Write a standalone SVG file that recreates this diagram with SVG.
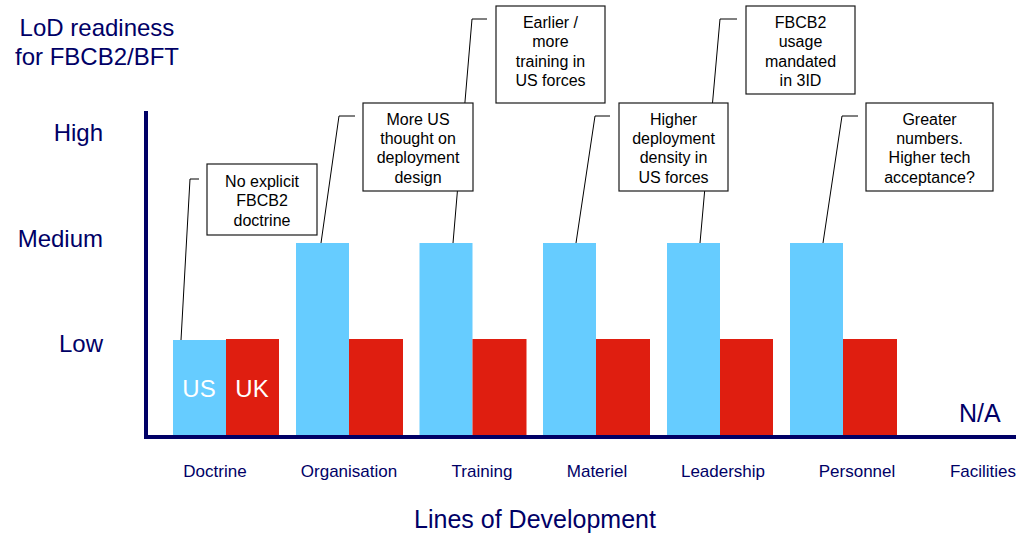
<svg xmlns="http://www.w3.org/2000/svg" width="1016" height="535" viewBox="0 0 1016 535">
<style>
  .navy{fill:#000066;font-family:"Liberation Sans",Arial,sans-serif}
  .big{font-size:24px}
  .cat{font-size:17px;text-anchor:middle}
  .us{fill:#66CCFF}
  .uk{fill:#DF1E10}
  .bartxt{fill:#FFFFFF;font-family:"Liberation Sans",Arial,sans-serif;font-size:24px;text-anchor:middle}
  .box{fill:#FFFFFF;stroke:#1a1a1a;stroke-width:1.2}
  .note{fill:#000000;font-family:"Liberation Sans",Arial,sans-serif;font-size:16px;text-anchor:middle}
  .lead{fill:none;stroke:#000000;stroke-width:1}
</style>
<rect width="1016" height="535" fill="#FFFFFF"/>

<g id="title">
  <text class="navy big" x="97" y="36" text-anchor="middle">LoD readiness</text>
  <text class="navy big" x="97" y="65" text-anchor="middle">for FBCB2/BFT</text>
</g>
<g id="y-labels">
  <text class="navy big" x="103" y="141" text-anchor="end">High</text>
  <text class="navy big" x="103" y="247" text-anchor="end">Medium</text>
  <text class="navy big" x="103" y="352" text-anchor="end">Low</text>
</g>

<g id="bars">
  <g id="bar-doctrine">
    <rect class="us" x="173" y="340" width="53" height="97"/>
    <rect class="uk" x="226" y="339" width="53" height="98"/>
    <text class="bartxt" x="199" y="397">US</text>
    <text class="bartxt" x="252" y="397">UK</text>
  </g>
  <g id="bar-organisation">
    <rect class="us" x="296" y="243" width="53" height="194"/>
    <rect class="uk" x="349" y="339" width="54" height="98"/>
  </g>
  <g id="bar-training">
    <rect class="us" x="419.5" y="243" width="53" height="194"/>
    <rect class="uk" x="472.5" y="339" width="54" height="98"/>
  </g>
  <g id="bar-materiel">
    <rect class="us" x="543" y="243" width="53" height="194"/>
    <rect class="uk" x="596" y="339" width="54" height="98"/>
  </g>
  <g id="bar-leadership">
    <rect class="us" x="667" y="243" width="53" height="194"/>
    <rect class="uk" x="720" y="339" width="53" height="98"/>
  </g>
  <g id="bar-personnel">
    <rect class="us" x="790" y="243" width="53" height="194"/>
    <rect class="uk" x="843" y="339" width="54" height="98"/>
  </g>
</g>

<g id="axes">
  <polyline points="146,111 146,437 1016,437" fill="none" stroke="#000066" stroke-width="4"/>
</g>

<text id="na" class="navy" x="959" y="422" font-size="25">N/A</text>

<g id="x-labels">
  <text class="navy cat" x="215" y="477">Doctrine</text>
  <text class="navy cat" x="349" y="477">Organisation</text>
  <text class="navy cat" x="482" y="477">Training</text>
  <text class="navy cat" x="597" y="477">Materiel</text>
  <text class="navy cat" x="723" y="477">Leadership</text>
  <text class="navy cat" x="857" y="477">Personnel</text>
  <text class="navy cat" x="983" y="477">Facilities</text>
</g>
<text id="x-title" class="navy" x="535" y="528" font-size="25" text-anchor="middle">Lines of Development</text>

<g id="connectors">
  <polyline class="lead" points="181,340 190,179 199,179"/>
  <polyline class="lead" points="321,243 339,116 355,116"/>
  <polyline class="lead" points="453,243 472,19 487,19"/>
  <polyline class="lead" points="576,243 595,116 610,116"/>
  <polyline class="lead" points="700,243 720,19 737,19"/>
  <polyline class="lead" points="823,243 842,116 858,116"/>
</g>

<g id="note-doctrine">
  <rect class="box" x="207" y="164" width="110" height="71"/>
  <text class="note" x="262" y="186.5">No explicit</text>
  <text class="note" x="262" y="206">FBCB2</text>
  <text class="note" x="262" y="225.5">doctrine</text>
</g>
<g id="note-organisation">
  <rect class="box" x="363" y="103" width="110" height="88"/>
  <text class="note" x="418" y="124.5">More US</text>
  <text class="note" x="418" y="143.5">thought on</text>
  <text class="note" x="418" y="163">deployment</text>
  <text class="note" x="418" y="182.5">design</text>
</g>
<g id="note-training">
  <rect class="box" x="496" y="6" width="109" height="97"/>
  <text class="note" x="550.5" y="28">Earlier /</text>
  <text class="note" x="550.5" y="47">more</text>
  <text class="note" x="550.5" y="66.5">training in</text>
  <text class="note" x="550.5" y="85.5">US forces</text>
</g>
<g id="note-materiel">
  <rect class="box" x="619" y="103" width="109" height="88"/>
  <text class="note" x="673.5" y="124.5">Higher</text>
  <text class="note" x="673.5" y="143.5">deployment</text>
  <text class="note" x="673.5" y="163">density in</text>
  <text class="note" x="673.5" y="182.5">US forces</text>
</g>
<g id="note-leadership">
  <rect class="box" x="746" y="6" width="109" height="88"/>
  <text class="note" x="800.5" y="28">FBCB2</text>
  <text class="note" x="800.5" y="47">usage</text>
  <text class="note" x="800.5" y="66.5">mandated</text>
  <text class="note" x="800.5" y="85.5">in 3ID</text>
</g>
<g id="note-personnel">
  <rect class="box" x="866" y="103" width="127" height="88"/>
  <text class="note" x="929.5" y="124.5">Greater</text>
  <text class="note" x="929.5" y="143.5">numbers.</text>
  <text class="note" x="929.5" y="163">Higher tech</text>
  <text class="note" x="929.5" y="182.5">acceptance?</text>
</g>
</svg>
